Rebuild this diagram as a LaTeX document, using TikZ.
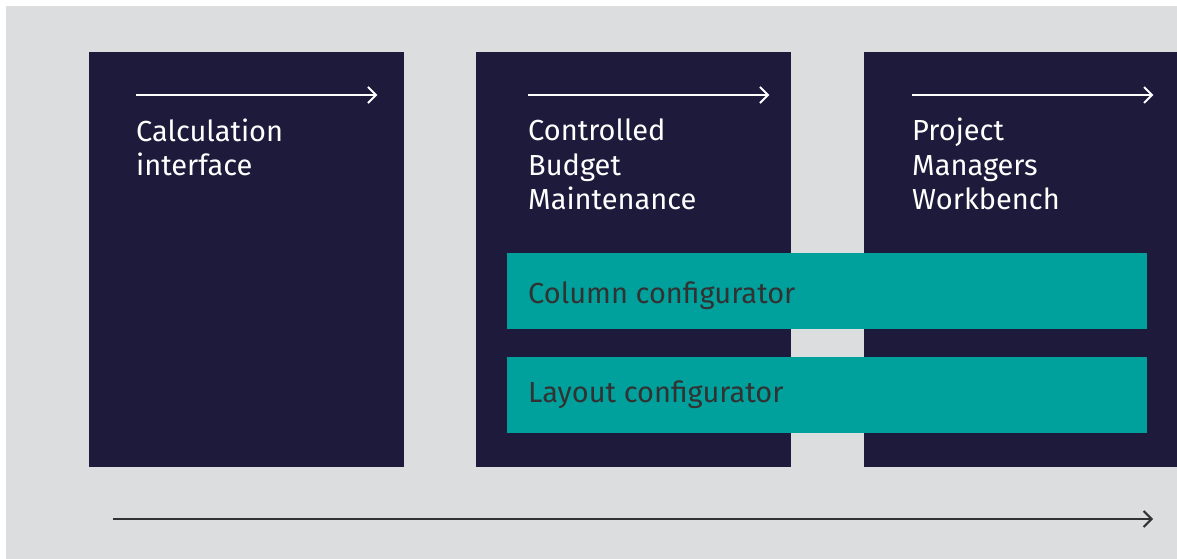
\documentclass[tikz,border=0pt]{standalone}
\usepackage{fontspec}
\setmainfont{Fira Sans}
\usepackage{tikz}
\usetikzlibrary{arrows.meta, positioning}
\definecolor{bggray}{HTML}{DCDDDF}
\definecolor{navy}{HTML}{1E1A3B}
\definecolor{teal}{HTML}{00A19D}
\definecolor{ink}{HTML}{323232}

\begin{document}
\begin{tikzpicture}[x=1pt, y=-1pt,
    phase/.style={rectangle, fill=navy, anchor=north west, inner sep=0pt,
                  minimum width=315pt, minimum height=415pt},
    config/.style={rectangle, fill=teal, anchor=north west, inner sep=0pt,
                   minimum width=640pt, minimum height=76pt},
    title/.style={anchor=north west, inner sep=0pt, align=left, text=white,
                  font=\fontsize{29}{34.5}\selectfont},
    label/.style={anchor=base west, inner sep=0pt, text=ink,
                  font=\fontsize{29}{34.5}\selectfont},
    flow/.style={draw=white, line width=2pt, -{Straight Barb[length=8pt, width=16pt]}}]

    % Background
    \useasboundingbox (0,0) rectangle (1177,559);
    \fill[bggray] (6,6) rectangle (1177,559);

    % Phases
    \node[phase] (calc) at (89, 52) {};
    \node[phase] (budget) at (476, 52) {};
    \node[phase, minimum width=313pt] (workbench) at (864, 52) {};

    \node[title] (calctxt) at (136, 118.5) {Calculation\\interface};
    \node[title] (budgettxt) at (528, 119) {Controlled\\Budget\\Maintenance};
    \node[title] (benchtxt) at (912, 118) {Project\\Managers\\Workbench};

    % Arrows in phases
    \draw[flow] ([shift={(47,43)}]calc.north west) -- ([shift={(-27,43)}]calc.north east);
    \draw[flow] ([shift={(52,43)}]budget.north west) -- ([shift={(-22,43)}]budget.north east);
    \draw[flow] ([shift={(48,43)}]workbench.north west) -- ([shift={(-24,43)}]workbench.north east);

    % Configurators
    \node[config] (column) at (507, 253) {};
    \node[config] (layout) at (507, 357) {};
    \node[label] at (528, 303) {Column configurator};
    \node[label] at (528, 402) {Layout configurator};

    % Timeline
    \coordinate (tstart) at (113, 519);
    \coordinate (tend) at (1153, 519);
    \draw[draw=ink, line width=2pt, -{Straight Barb[length=8pt, width=16pt]}] (tstart) -- (tend);
\end{tikzpicture}
\end{document}
